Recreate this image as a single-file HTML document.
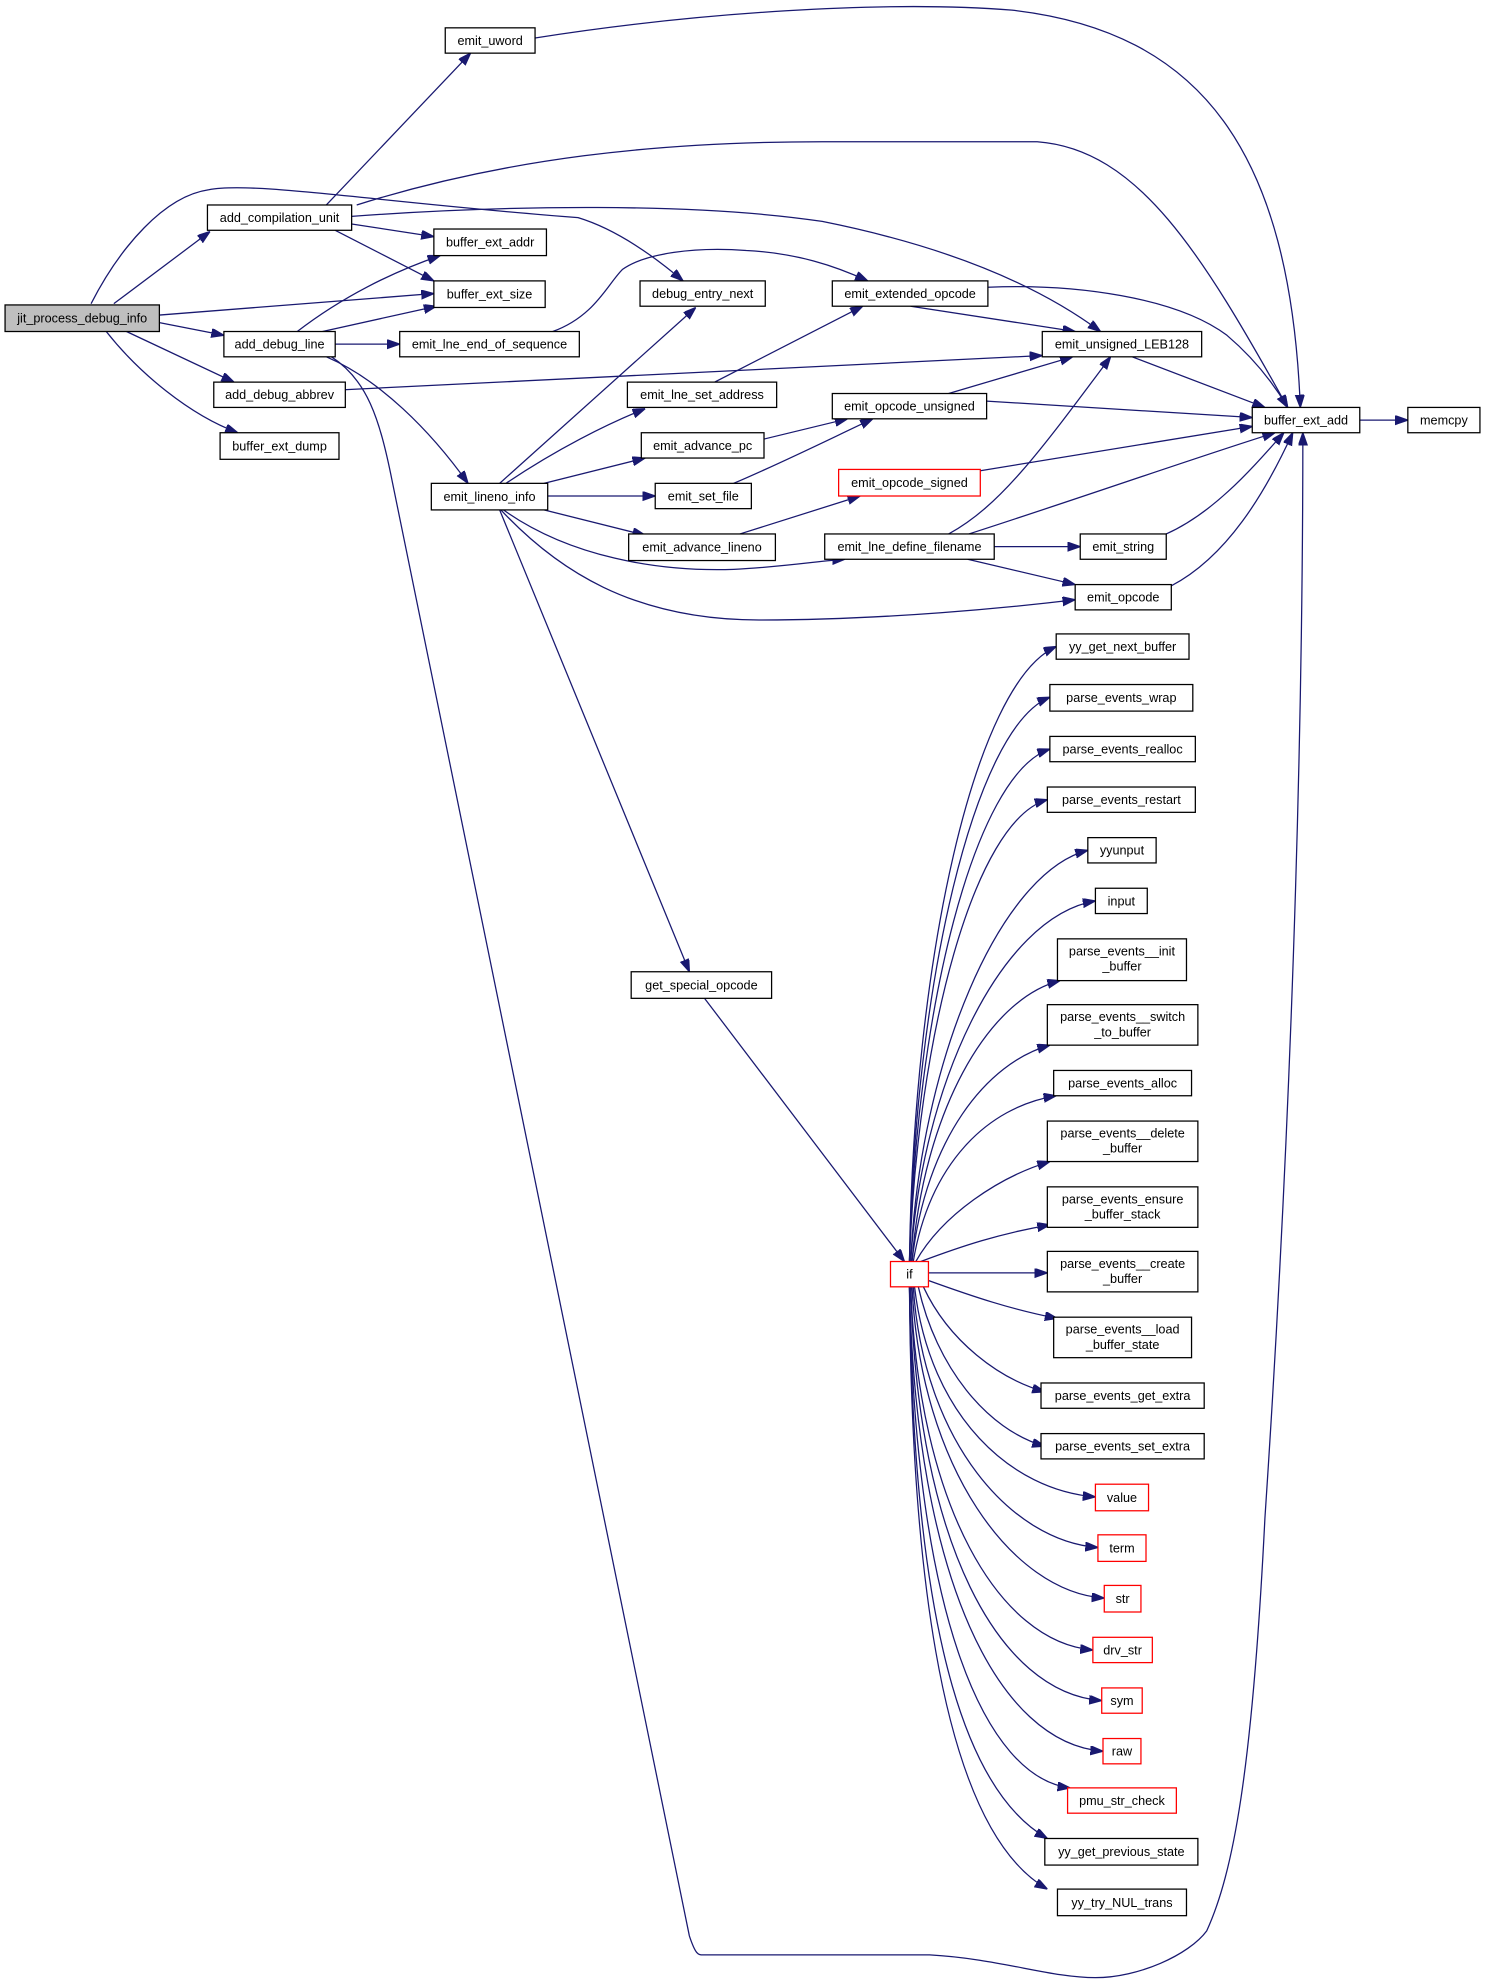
<!DOCTYPE html>
<html><head><meta charset="utf-8"><style>
html,body{margin:0;padding:0;background:#fff;}
svg{display:block;}
text{font-family:"Liberation Sans",Helvetica,sans-serif;font-size:10px;text-anchor:middle;fill:#000;}
.n{fill:#fff;stroke:#000;stroke-width:1;}
.r{fill:#fff;stroke:#ff0000;stroke-width:1;}
.e{fill:none;stroke:#191970;stroke-width:1;marker-end:url(#a);}
</style></head><body>
<svg width="1485" height="1984" viewBox="0 0 1174 1568" preserveAspectRatio="none" xmlns="http://www.w3.org/2000/svg">
<defs><marker id="a" markerUnits="userSpaceOnUse" markerWidth="10" markerHeight="8" refX="10" refY="3.5" orient="auto"><path d="M0,0 L10,3.5 L0,7 z" fill="#191970" stroke="#191970"/></marker></defs>
<g>
<path class="e" d="M90,240 L166,183"/>
<path class="e" d="M72,240 C95,195 130,155 165,150 C200,143 300,160 457,172 C490,182 520,205 540,222"/>
<path class="e" d="M126,249 L343,232"/>
<path class="e" d="M126,255 L177,265"/>
<path class="e" d="M100,262 L185,302"/>
<path class="e" d="M84,262 C110,295 150,328 188,342"/>
<path class="e" d="M258,162 L372,42"/>
<path class="e" d="M282,162 C400,125 520,112 650,112 L820,112 C900,118 950,200 1018,322"/>
<path class="e" d="M278,171 C400,162 550,160 650,175 C750,195 820,225 870,262"/>
<path class="e" d="M278,177 L343,187"/>
<path class="e" d="M265,182 L343,222"/>
<path class="e" d="M423,30 C550,10 700,0 800,8 C950,25 1020,120 1028,322"/>
<path class="e" d="M235,262 C270,235 310,215 348,202"/>
<path class="e" d="M255,262 L345,242"/>
<path class="e" d="M265,272 L316,272"/>
<path class="e" d="M258,282 C300,300 340,340 370,382"/>
<path class="e" d="M262,282 C290,300 300,330 310,380 L545,1530 C550,1545 552,1545 556,1545 L735,1545 C790,1548 830,1563 866,1563 C900,1563 940,1545 954,1526 C975,1480 990,1400 1000,1200 C1020,900 1030,600 1030,342"/>
<path class="e" d="M437,262 C470,250 480,225 492,213 C510,200 550,195 590,198 C630,200 660,210 686,222"/>
<path class="e" d="M272,308 L824,281"/>
<path class="e" d="M395,382 L550,243"/>
<path class="e" d="M400,382 C440,355 480,335 510,323"/>
<path class="e" d="M430,382 L510,362"/>
<path class="e" d="M433,392 L518,392"/>
<path class="e" d="M430,403 L510,423"/>
<path class="e" d="M398,403 C450,440 520,452 580,450 C620,448 650,443 668,442"/>
<path class="e" d="M396,403 C440,450 500,490 600,490 C700,490 800,480 850,474"/>
<path class="e" d="M395,403 L545,768"/>
<path class="e" d="M557,789 L715,997"/>
<path class="e" d="M565,302 L682,242"/>
<path class="e" d="M604,347 L670,331"/>
<path class="e" d="M580,382 C620,365 660,345 690,331"/>
<path class="e" d="M585,422 L680,392"/>
<path class="e" d="M720,242 L850,262"/>
<path class="e" d="M781,227 C850,224 930,235 970,265 C990,282 1005,300 1018,322"/>
<path class="e" d="M895,282 L1000,322"/>
<path class="e" d="M780,317 L990,330"/>
<path class="e" d="M750,311 L848,282"/>
<path class="e" d="M775,372 L990,337"/>
<path class="e" d="M750,422 C790,400 820,360 878,282"/>
<path class="e" d="M766,422 C850,395 950,360 1008,342"/>
<path class="e" d="M786,432 L854,432"/>
<path class="e" d="M765,442 L850,462"/>
<path class="e" d="M922,422 C960,405 990,370 1015,342"/>
<path class="e" d="M926,463 C970,440 1000,390 1022,342"/>
<path class="e" d="M1075,332 L1113,332"/>
<!-- if edges -->
<path class="e" d="M719,997 C722,760 770,540 835,511"/>
<path class="e" d="M719,997 C723,780 770,575 830,551"/>
<path class="e" d="M719,997 C724,800 770,612 830,592"/>
<path class="e" d="M719,997 C725,820 770,648 828,632"/>
<path class="e" d="M720,997 C727,840 790,690 860,672"/>
<path class="e" d="M720,997 C728,860 790,725 866,712"/>
<path class="e" d="M721,997 C730,880 780,790 838,775"/>
<path class="e" d="M721,997 C732,900 780,840 830,826"/>
<path class="e" d="M722,997 C735,920 780,875 835,866"/>
<path class="e" d="M724,997 C745,960 790,930 830,918"/>
<path class="e" d="M728,997 C760,985 790,975 830,968"/>
<path class="e" d="M734,1006 L828,1006"/>
<path class="e" d="M734,1012 C770,1025 800,1035 836,1042"/>
<path class="e" d="M730,1017 C750,1060 790,1090 826,1100"/>
<path class="e" d="M726,1017 C740,1080 780,1130 826,1143"/>
<path class="e" d="M723,1017 C735,1120 800,1178 866,1183"/>
<path class="e" d="M722,1017 C730,1140 800,1218 868,1223"/>
<path class="e" d="M721,1017 C728,1160 800,1258 873,1263"/>
<path class="e" d="M720,1017 C726,1190 790,1298 864,1304"/>
<path class="e" d="M720,1017 C725,1220 790,1338 871,1344"/>
<path class="e" d="M719,1017 C724,1250 790,1378 872,1384"/>
<path class="e" d="M719,1017 C723,1280 780,1405 846,1413"/>
<path class="e" d="M719,1017 C722,1310 770,1420 828,1453"/>
<path class="e" d="M719,1017 C721,1340 770,1460 828,1493"/>
</g>
<g>
<rect x="4" y="241" width="122" height="21" fill="#bfbfbf" stroke="#000"/><text x="65" y="255">jit_process_debug_info</text>
<rect class="n" x="352" y="22" width="71" height="20"/><text x="387.5" y="35.5">emit_uword</text>
<rect class="n" x="164" y="162" width="114" height="20"/><text x="221" y="175.5">add_compilation_unit</text>
<rect class="n" x="343" y="181" width="89" height="21"/><text x="387.5" y="195">buffer_ext_addr</text>
<rect class="n" x="343" y="222" width="88" height="21"/><text x="387" y="236">buffer_ext_size</text>
<rect class="n" x="177" y="262" width="88" height="20"/><text x="221" y="275.5">add_debug_line</text>
<rect class="n" x="316" y="262" width="142" height="20"/><text x="387" y="275.5">emit_lne_end_of_sequence</text>
<rect class="n" x="169" y="302" width="104" height="20"/><text x="221" y="315.5">add_debug_abbrev</text>
<rect class="n" x="174" y="342" width="94" height="21"/><text x="221" y="356">buffer_ext_dump</text>
<rect class="n" x="341" y="382" width="92" height="21"/><text x="387" y="396">emit_lineno_info</text>
<rect class="n" x="506" y="222" width="99" height="20"/><text x="555.5" y="235.5">debug_entry_next</text>
<rect class="n" x="496" y="302" width="118" height="20"/><text x="555" y="315.5">emit_lne_set_address</text>
<rect class="n" x="507" y="342" width="97" height="20"/><text x="555.5" y="355.5">emit_advance_pc</text>
<rect class="n" x="518" y="382" width="76" height="20"/><text x="556" y="395.5">emit_set_file</text>
<rect class="n" x="497" y="422" width="116" height="21"/><text x="555" y="436">emit_advance_lineno</text>
<rect class="n" x="658" y="222" width="123" height="20"/><text x="719.5" y="235.5">emit_extended_opcode</text>
<rect class="n" x="824" y="262" width="126" height="20"/><text x="887" y="275.5">emit_unsigned_LEB128</text>
<rect class="n" x="658" y="311" width="122" height="20"/><text x="719" y="324.5">emit_opcode_unsigned</text>
<rect class="r" x="663" y="371" width="112" height="21"/><text x="719" y="385">emit_opcode_signed</text>
<rect class="n" x="652" y="422" width="134" height="20"/><text x="719" y="435.5">emit_lne_define_filename</text>
<rect class="n" x="854" y="422" width="68" height="20"/><text x="888" y="435.5">emit_string</text>
<rect class="n" x="850" y="462" width="76" height="20"/><text x="888" y="475.5">emit_opcode</text>
<rect class="n" x="990" y="322" width="85" height="20"/><text x="1032.5" y="335.5">buffer_ext_add</text>
<rect class="n" x="1113" y="322" width="57" height="20"/><text x="1141.5" y="335.5">memcpy</text>
<rect class="n" x="499" y="768" width="111" height="21"/><text x="554.5" y="782">get_special_opcode</text>
<rect class="r" x="704" y="997" width="30" height="20"/><text x="719" y="1010.5">if</text>
<rect class="n" x="835" y="501" width="105" height="20"/><text x="887.5" y="514.5">yy_get_next_buffer</text>
<rect class="n" x="830" y="541" width="113" height="21"/><text x="886.5" y="555">parse_events_wrap</text>
<rect class="n" x="830" y="582" width="115" height="20"/><text x="887.5" y="595.5">parse_events_realloc</text>
<rect class="n" x="828" y="622" width="117" height="20"/><text x="886.5" y="635.5">parse_events_restart</text>
<rect class="n" x="860" y="662" width="54" height="20"/><text x="887" y="675.5">yyunput</text>
<rect class="n" x="866" y="702" width="41" height="20"/><text x="886.5" y="715.5">input</text>
<rect class="n" x="836" y="742" width="102" height="33"/><text x="887" y="755">parse_events__init</text><text x="887" y="767">_buffer</text>
<rect class="n" x="828" y="794" width="119" height="32"/><text x="887.5" y="807">parse_events__switch</text><text x="887.5" y="819">_to_buffer</text>
<rect class="n" x="833" y="846" width="109" height="20"/><text x="887.5" y="859.5">parse_events_alloc</text>
<rect class="n" x="828" y="886" width="119" height="32"/><text x="887.5" y="899">parse_events__delete</text><text x="887.5" y="911">_buffer</text>
<rect class="n" x="828" y="938" width="119" height="32"/><text x="887.5" y="951">parse_events_ensure</text><text x="887.5" y="963">_buffer_stack</text>
<rect class="n" x="828" y="989" width="119" height="32"/><text x="887.5" y="1002">parse_events__create</text><text x="887.5" y="1014">_buffer</text>
<rect class="n" x="833" y="1041" width="109" height="32"/><text x="887.5" y="1054">parse_events__load</text><text x="887.5" y="1066">_buffer_state</text>
<rect class="n" x="823" y="1093" width="129" height="20"/><text x="887.5" y="1106.5">parse_events_get_extra</text>
<rect class="n" x="823" y="1133" width="129" height="20"/><text x="887.5" y="1146.5">parse_events_set_extra</text>
<rect class="r" x="866" y="1173" width="42" height="21"/><text x="887" y="1187">value</text>
<rect class="r" x="868" y="1213" width="38" height="21"/><text x="887" y="1227">term</text>
<rect class="r" x="873" y="1253" width="29" height="21"/><text x="887.5" y="1267">str</text>
<rect class="r" x="864" y="1294" width="47" height="20"/><text x="887.5" y="1307.5">drv_str</text>
<rect class="r" x="871" y="1334" width="32" height="20"/><text x="887" y="1347.5">sym</text>
<rect class="r" x="872" y="1374" width="30" height="20"/><text x="887" y="1387.5">raw</text>
<rect class="r" x="844" y="1413" width="86" height="20"/><text x="887" y="1426.5">pmu_str_check</text>
<rect class="n" x="826" y="1453" width="121" height="21"/><text x="886.5" y="1467">yy_get_previous_state</text>
<rect class="n" x="836" y="1493" width="102" height="21"/><text x="887" y="1507">yy_try_NUL_trans</text>
</g>
</svg>
</body></html>
